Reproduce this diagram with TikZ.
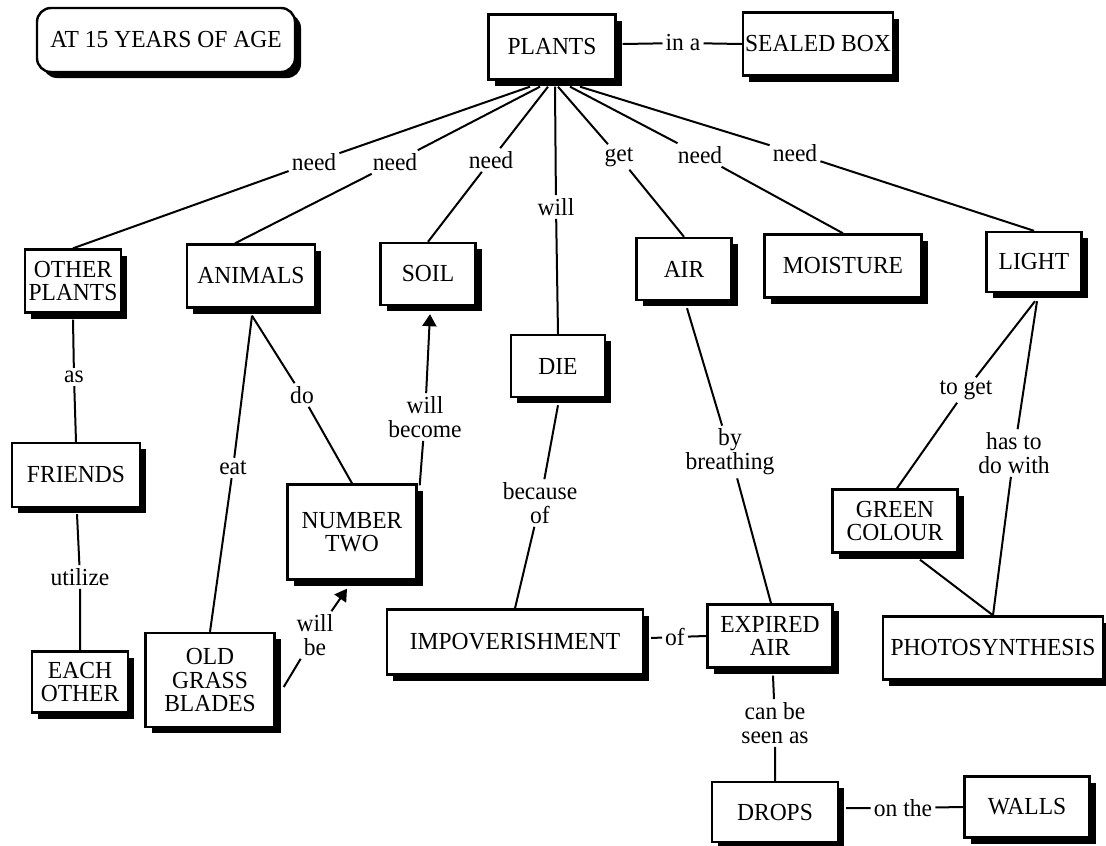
\documentclass[tikz,border=0pt]{standalone}
\usepackage{fontspec}
\setmainfont{Liberation Serif}[FakeStretch=0.96]
\usetikzlibrary{shadows,calc,arrows.meta}
\begin{document}
\begin{tikzpicture}[x=1pt,y=-1pt,
  concept/.style={draw, line width=2.4pt, fill=white, align=center, inner sep=2pt,
    font=\fontsize{24.5}{23.5}\selectfont,
    drop shadow={shadow xshift=6pt, shadow yshift=-6pt, opacity=1, fill=black}},
  linkword/.style={align=center, inner sep=3pt, font=\fontsize{24.5}{24}\selectfont},
  conn/.style={line width=2pt},
  pointer/.style={conn, -{Triangle[length=12pt,width=14pt]}}]
\useasboundingbox (0,0) rectangle (1106,846);

% concepts
\node[concept, rounded corners=14pt, minimum width=258pt, minimum height=64pt] (age) at (166,40) {AT 15 YEARS OF AGE};
\node[concept, minimum width=127pt, minimum height=65pt] (plants) at (552,47) {PLANTS};
\node[concept, minimum width=146pt, minimum height=63pt] (sealed) at (818,44) {SEALED BOX};
\node[concept, minimum width=96pt, minimum height=63pt] (op) at (73,281) {OTHER\\PLANTS};
\node[concept, minimum width=128pt, minimum height=63pt] (animals) at (251,276) {ANIMALS};
\node[concept, minimum width=95pt, minimum height=62pt] (soil) at (428,274) {SOIL};
\node[concept, minimum width=95pt, minimum height=62pt] (air) at (684,269) {AIR};
\node[concept, minimum width=157pt, minimum height=63pt] (moist) at (843,266) {MOISTURE};
\node[concept, minimum width=95pt, minimum height=60pt] (light) at (1034,262) {LIGHT};
\node[concept, minimum width=128pt, minimum height=64pt] (friends) at (76,475) {FRIENDS};
\node[concept, minimum width=94pt, minimum height=62pt] (die) at (558,366) {DIE};
\node[concept, minimum width=129pt, minimum height=95pt] (ntwo) at (352,532) {NUMBER\\TWO};
\node[concept, minimum width=125pt, minimum height=63pt] (gc) at (895,521) {GREEN\\COLOUR};
\node[concept, minimum width=96pt, minimum height=61pt] (each) at (80,682) {EACH\\OTHER};
\node[concept, minimum width=129pt, minimum height=94pt] (ogb) at (210,680) {OLD\\GRASS\\BLADES};
\node[concept, minimum width=256pt, minimum height=65pt] (imp) at (515,642) {IMPOVERISHMENT};
\node[concept, minimum width=125pt, minimum height=63pt] (exp) at (770,636) {EXPIRED\\AIR};
\node[concept, minimum width=220pt, minimum height=63pt] (photo) at (993,648) {PHOTOSYNTHESIS};
\node[concept, minimum width=126pt, minimum height=60pt] (drops) at (775,812) {DROPS};
\node[concept, minimum width=125pt, minimum height=61pt] (walls) at (1027,807) {WALLS};

% linking words
\node[linkword] (ina) at (683,43) {in a};
\node[linkword] (n1) at (314,162) {need};
\node[linkword] (n2) at (395,162) {need};
\node[linkword] (n3) at (491,160) {need};
\node[linkword] (will) at (556,207) {will};
\node[linkword] (get) at (619,157) {get};
\node[linkword] (n4) at (700,155) {need};
\node[linkword] (n5) at (795,153) {need};
\node[linkword] (as) at (74,377) {as};
\node[linkword] (utilize) at (80,577) {utilize};
\node[linkword] (eat) at (233,468) {eat};
\node[linkword] (do) at (302,395) {do};
\node[linkword] (become) at (425,417) {will\\become};
\node[linkword] (willbe) at (315,635) {will\\be};
\node[linkword] (because) at (540,503) {because\\of};
\node[linkword] (breath) at (730,452) {by\\breathing};
\node[linkword] (of) at (675,637) {of};
\node[linkword] (seen) at (775,723) {can be\\seen as};
\node[linkword] (onthe) at (903,808) {on the};
\node[linkword] (toget) at (966,390) {to get};
\node[linkword] (hasto) at (1014,453) {has to\\do with};

% connectors
\draw[conn] ($(plants.east)+(6,-3)$) -- (ina) -- (sealed.west);
\draw[conn] ($(plants.south)+(-22,6)$) -- (n1) -- (op.north);
\draw[conn] ($(plants.south)+(-12,6)$) -- (n2) -- ($(animals.north)+(-16,0)$);
\draw[conn] ($(plants.south)+(-4,6)$) -- (n3) -- (soil.north);
\draw[conn] ($(plants.south)+(3,6)$) -- (will) -- (die.north);
\draw[conn] ($(plants.south)+(6,6)$) -- (get) -- (air.north);
\draw[conn] ($(plants.south)+(18,6)$) -- (n4) -- (moist.north);
\draw[conn] ($(plants.south)+(28,6)$) -- (n5) -- (light.north);

\draw[conn] ($(op.south)+(0,6)$) -- (as) -- (friends.north);
\draw[conn] ($(friends.south)+(1,6)$) -- (utilize) -- (each.north);

\draw[conn] ($(animals.south)+(1,7)$) -- (eat) -- (ogb.north);
\draw[conn] ($(animals.south)+(1,7)$) -- (do) -- (ntwo.north);
\draw[conn] ($(ntwo.north east)+(2,2)$) -- (become);
\draw[pointer] (become) -- ($(soil.south)+(2,8)$);
\draw[conn] ($(ogb.east)+(8,7)$) -- (willbe);
\draw[pointer] (willbe) -- ($(ntwo.south)+(-5,8)$);

\draw[conn] ($(die.south)+(0,7)$) -- (because) -- (imp.north);
\draw[conn] ($(air.south)+(3,7)$) -- (breath) -- ($(exp.north)+(1,0)$);
\draw[conn] ($(imp.east)+(7,-4)$) -- (of) -- (exp.west);
\draw[conn] ($(exp.south)+(3,7)$) -- (seen) -- (drops.north);
\draw[conn] ($(drops.east)+(7,-4)$) -- (onthe) -- (walls.west);

\draw[conn] ($(light.south)+(1,8)$) -- (toget) -- ($(gc.north)+(2,0)$);
\draw[conn] ($(light.south)+(3,8)$) -- (hasto) -- (photo.north);
\draw[conn] ($(gc.south)+(25,6)$) -- (photo.north);
\end{tikzpicture}
\end{document}
